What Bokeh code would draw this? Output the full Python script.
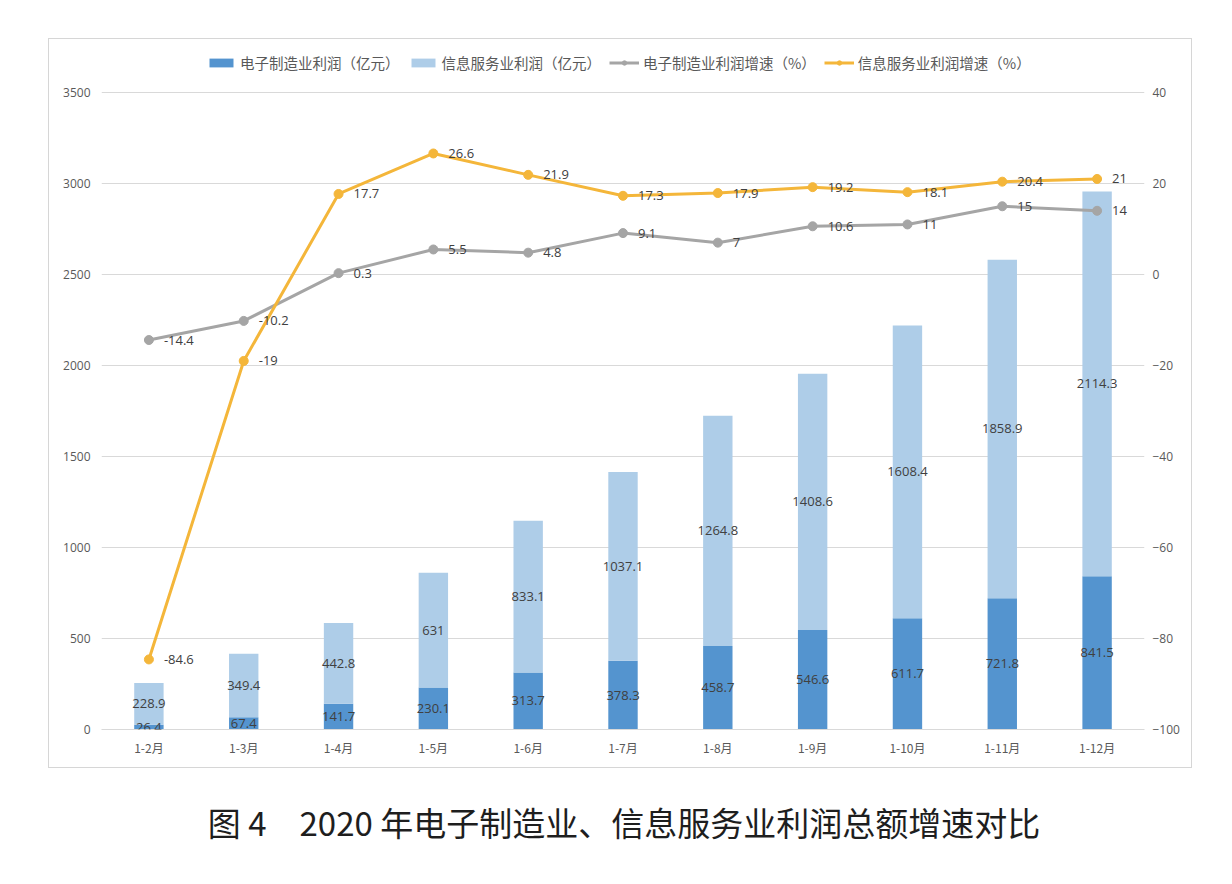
from bokeh.plotting import figure
from bokeh.layouts import column
from bokeh.models import (ColumnDataSource, FactorRange, Range1d, LinearAxis, LabelSet,
                          Legend, LegendItem, Title, FixedTicker)
from bokeh.core.properties import value
from bokeh.embed import file_html
from bokeh.resources import INLINE

# ---- data ----
months = ["1-2月", "1-3月", "1-4月", "1-5月", "1-6月", "1-7月", "1-8月", "1-9月", "1-10月", "1-11月", "1-12月"]
elec_profit = [26.4, 67.4, 141.7, 230.1, 313.7, 378.3, 458.7, 546.6, 611.7, 721.8, 841.5]
info_profit = [228.9, 349.4, 442.8, 631, 833.1, 1037.1, 1264.8, 1408.6, 1608.4, 1858.9, 2114.3]
elec_growth = [-14.4, -10.2, 0.3, 5.5, 4.8, 9.1, 7, 10.6, 11, 15, 14]
info_growth = [-84.6, -19, 17.7, 26.6, 21.9, 17.3, 17.9, 19.2, 18.1, 20.4, 21]
left_ticks = [0, 500, 1000, 1500, 2000, 2500, 3000, 3500]
right_ticks = [-100, -80, -60, -40, -20, 0, 20, 40]
series_names = ["电子制造业利润（亿元）", "信息服务业利润（亿元）", "电子制造业利润增速（%）", "信息服务业利润增速（%）"]
caption = "图 4\u30002020 年电子制造业、信息服务业利润总额增速对比"

DARK = "#5494CF"
LIGHT = "#AECDE8"
GRAY = "#A5A5A5"
ORANGE = "#F4B63A"
CJK = "Noto Sans CJK SC"
NUM = "Open Sans"

# layout geometry (pixels): tick span 637 px, plus room above it for the legend
TICK_SPAN_PX = 637
FRAME_PX = 683
scale = FRAME_PX / TICK_SPAN_PX
left_lo, left_hi = left_ticks[0], left_ticks[-1]
right_lo, right_hi = right_ticks[0], right_ticks[-1]

fmt = lambda v: f"{v:g}"
src = ColumnDataSource(dict(
    m=months,
    e=elec_profit,
    t=[a + b for a, b in zip(elec_profit, info_profit)],
    e_mid=[a / 2 for a in elec_profit],
    i_mid=[a + b / 2 for a, b in zip(elec_profit, info_profit)],
    e_txt=[fmt(v) for v in elec_profit],
    i_txt=[fmt(v) for v in info_profit],
    eg=elec_growth,
    ig=info_growth,
    eg_txt=[fmt(v) for v in elec_growth],
    ig_txt=[fmt(v) for v in info_growth],
))

p = figure(width=1144, height=730, x_range=FactorRange(factors=months),
           y_range=Range1d(left_lo, left_lo + (left_hi - left_lo) * scale),
           output_backend="svg", toolbar_location=None,
           min_border_left=52, min_border_right=49, min_border_top=7, min_border_bottom=40)
p.margin = (38, 0, 0, 48)
p.styles = {"border": "1px solid #d6d6d6", "box-sizing": "border-box"}
p.extra_y_ranges = {"right": Range1d(right_lo, right_lo + (right_hi - right_lo) * scale)}
p.outline_line_color = None
p.background_fill_color = "white"
p.border_fill_color = "white"

# axes
p.yaxis.ticker = FixedTicker(ticks=left_ticks)
rax = LinearAxis(y_range_name="right", ticker=FixedTicker(ticks=right_ticks))
p.add_layout(rax, "right")
for ax in [p.yaxis[0], rax]:
    ax.axis_line_color = None
    ax.major_tick_line_color = None
    ax.minor_tick_line_color = None
    ax.major_label_text_font = NUM
    ax.major_label_text_font_size = "12px"
    ax.major_label_text_color = "#595959"
p.yaxis[0].major_label_standoff = 5
rax.major_label_standoff = 2

p.xaxis.axis_line_color = "#d9d9d9"
p.xaxis.major_tick_line_color = None
p.xaxis.minor_tick_line_color = None
p.xaxis.major_label_text_font = CJK
p.xaxis.major_label_text_font_size = "12px"
p.xaxis.major_label_text_color = "#595959"
p.xaxis.major_label_standoff = 3

p.xgrid.grid_line_color = None
p.ygrid.ticker = FixedTicker(ticks=left_ticks)
p.ygrid.grid_line_color = "#d9d9d9"

# bars
r1 = p.vbar(x="m", bottom=0, top="e", width=0.31, source=src, fill_color=DARK, line_color=None)
r2 = p.vbar(x="m", bottom="e", top="t", width=0.31, source=src, fill_color=LIGHT, line_color=None)

# lines
r3 = p.line(x="m", y="eg", y_range_name="right", source=src, line_color=GRAY, line_width=3)
r3m = p.scatter(x="m", y="eg", y_range_name="right", source=src, size=9, marker="circle",
                fill_color=GRAY, line_color=GRAY)
r4 = p.line(x="m", y="ig", y_range_name="right", source=src, line_color=ORANGE, line_width=3)
r4m = p.scatter(x="m", y="ig", y_range_name="right", source=src, size=9, marker="circle",
                fill_color=ORANGE, line_color=ORANGE)

lab_kw = dict(source=src, text_font=value(NUM), text_font_size=value("13px"),
              text_color="#404040", text_baseline="middle")
p.add_layout(LabelSet(x="m", y="e_mid", text="e_txt", text_align="center", **lab_kw))
p.add_layout(LabelSet(x="m", y="i_mid", text="i_txt", text_align="center", **lab_kw))
p.add_layout(LabelSet(x="m", y="eg", text="eg_txt", y_range_name="right", x_offset=15,
                      text_align="left", **lab_kw))
p.add_layout(LabelSet(x="m", y="ig", text="ig_txt", y_range_name="right", x_offset=15,
                      text_align="left", **lab_kw))

legend = Legend(items=[
    LegendItem(label=series_names[0], renderers=[r1]),
    LegendItem(label=series_names[1], renderers=[r2]),
    LegendItem(label=series_names[2], renderers=[r3, r3m]),
    LegendItem(label=series_names[3], renderers=[r4, r4m]),
], orientation="horizontal", location=(105, 656))
legend.border_line_color = None
legend.background_fill_alpha = 0
legend.glyph_width = 30
legend.glyph_height = 11
legend.label_standoff = 4
legend.spacing = 8
legend.padding = 0
legend.margin = 0
legend.label_height = 20
legend.label_text_font = CJK
legend.label_text_font_size = "14.5px"
legend.label_text_color = "#595959"
p.add_layout(legend, "center")

# caption below the framed chart
cap_fig = figure(width=1200, height=80, output_backend="svg", toolbar_location=None,
                 x_axis_type=None, y_axis_type=None, min_border_top=0, min_border_bottom=0,
                 min_border_left=0, min_border_right=0)
cap_fig.margin = (27, 0, 0, 22)
cap_fig.outline_line_color = None
cap_fig.xgrid.grid_line_color = None
cap_fig.ygrid.grid_line_color = None
cap = Title(text=caption, align="center", text_font=CJK, text_font_size="33px",
            text_font_style="normal", text_color="#1e1e1e", standoff=0)
cap_fig.add_layout(cap, "above")

layout = column(p, cap_fig)
open("out.html", "w").write(file_html(layout, INLINE))
